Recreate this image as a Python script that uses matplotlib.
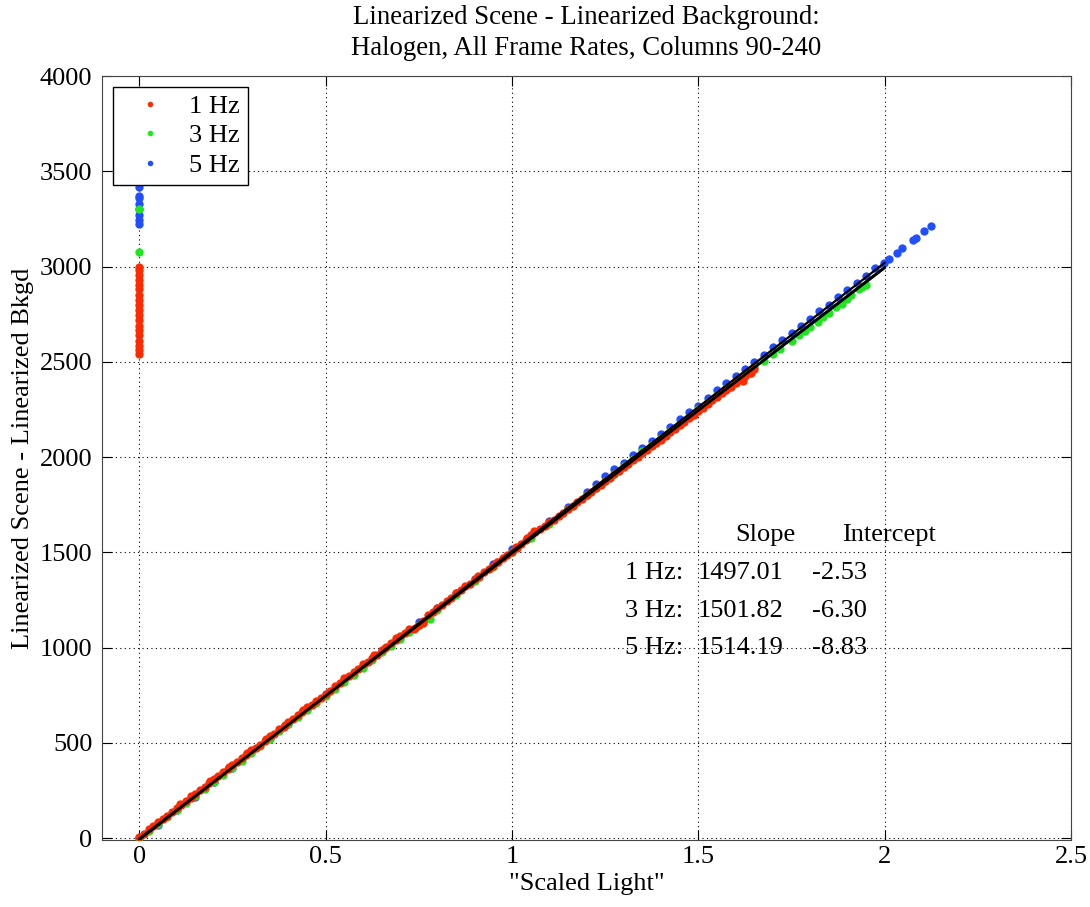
import numpy as np
import matplotlib
matplotlib.use('Agg')
import matplotlib.pyplot as plt

plt.rcParams['font.family'] = ['Liberation Serif', 'DejaVu Serif']
plt.rcParams['font.size'] = 19

# 1 Hz
x1 = [0.00, 0.025, 0.05, 0.075, 0.10, 0.125, 0.15, 0.175, 0.20, 0.225, 0.25, 0.275, 0.30, 0.325,
      0.35, 0.375, 0.40, 0.425, 0.45, 0.475, 0.50, 0.525, 0.55, 0.575, 0.60, 0.625, 0.65, 0.675,
      0.70, 0.725, 0.75, 0.775, 0.80, 0.825, 0.85, 0.875, 0.90, 0.925, 0.95, 0.975, 1.00, 1.025,
      1.05, 1.075, 1.10, 1.125, 1.15, 1.175, 1.20, 1.225, 1.25, 1.275, 1.30, 1.325, 1.35, 1.375,
      1.40, 1.425, 1.45, 1.475, 1.50, 1.525, 1.55, 1.575, 1.60, 1.625, 1.65,
      0.11, 0.14, 0.19, 0.24, 0.29, 0.34, 0.39, 0.44, 0.63, 0.66, 0.69, 0.74, 0.76, 0.91, 0.96,
      1.01, 1.04, 1.06, 1.62, 1.64,
      0.0125, 0.0375, 0.0625, 0.0875, 0.1125, 0.1375, 0.1625, 0.1875, 0.2125, 0.2375, 0.2625,
      0.2875, 0.3125, 0.3375, 0.3625, 0.3875, 0.4125, 0.4375, 0.4625, 0.4875, 0.5125, 0.5375,
      0.5625, 0.5875, 0.6125, 0.6375, 0.6625, 0.6875, 0.7125, 0.7375, 0.7625, 0.7875, 0.8125,
      0.8375, 0.8625, 0.8875, 0.9125, 0.9375, 0.9625, 0.9875, 1.0125, 1.0375, 1.0625, 1.0875,
      1.1125, 1.1375, 1.1625, 1.1875, 1.2125, 1.2375, 1.2625, 1.2875, 1.3125, 1.3375, 1.3625,
      1.3875, 1.4125, 1.4375, 1.4625, 1.4875, 1.5125, 1.5375, 1.5625, 1.5875, 1.6125, 1.6375]
y1 = [5, 45, 82, 118, 160, 195, 232, 270, 312, 345, 385, 420, 462, 490,
      535, 572, 610, 648, 690, 718, 758, 800, 838, 870, 915, 945, 985, 1025,
      1060, 1095, 1118, 1170, 1210, 1245, 1285, 1322, 1360, 1395, 1430, 1470, 1500, 1545,
      1590, 1620, 1660, 1690, 1728, 1765, 1800, 1838, 1875, 1910, 1948, 1985, 2020, 2058,
      2092, 2130, 2168, 2205, 2240, 2280, 2315, 2350, 2390, 2425, 2460,
      178, 222, 298, 372, 448, 522, 595, 672, 960, 1000, 1050, 1105, 1130, 1375, 1450,
      1528, 1575, 1610, 2400, 2440,
      22, 62, 100, 138, 176, 212, 250, 290, 328, 362, 400,
      438, 475, 510, 548, 585, 625, 662, 700, 735, 772, 812,
      850, 885, 925, 962, 1005, 1040, 1075, 1100, 1140, 1185, 1225,
      1262, 1300, 1335, 1372, 1410, 1450, 1485, 1525, 1565, 1605, 1640,
      1672, 1708, 1745, 1780, 1818, 1855, 1890, 1928, 1965, 2000, 2038,
      2075, 2110, 2148, 2185, 2222, 2260, 2298, 2335, 2370, 2408, 2442]
# 1 Hz, points at zero light
x1_zero = [0, 0, 0, 0, 0, 0, 0, 0, 0, 0, 0, 0, 0, 0, 0, 0, 0, 0, 0]
y1_zero = [2540, 2560, 2585, 2610, 2640, 2665, 2690, 2720, 2745, 2770, 2800, 2825, 2850, 2880,
           2905, 2930, 2955, 2980, 3000]

# 3 Hz
x3 = [0.00, 0.05, 0.10, 0.15, 0.20, 0.25, 0.30, 0.35, 0.40, 0.45, 0.50, 0.55, 0.60, 0.65, 0.70,
      0.75, 0.78, 0.80, 0.85, 0.90, 0.95, 1.00, 1.05, 1.10, 1.15, 1.20, 1.25, 1.30, 1.35, 1.40,
      1.45, 1.50, 1.55, 1.60, 1.65, 1.70, 1.75, 1.80, 1.85, 1.90, 1.93, 1.95,
      1.72, 1.77, 1.82, 1.87, 1.91,
      1.225, 1.275, 1.325, 1.375, 1.425, 1.475, 1.525, 1.575, 1.625, 1.675, 1.785, 1.835, 1.885,
      1.94, 0.025, 0.075, 0.125, 0.175, 0.225, 0.275, 0.325, 0.375, 0.425, 0.475, 0.525, 0.575,
      0.625, 0.675, 0.725, 0.76]
y3 = [0, 72, 145, 220, 295, 368, 445, 520, 600, 670, 745, 820, 895, 975, 1045,
      1120, 1150, 1195, 1275, 1350, 1425, 1500, 1575, 1650, 1725, 1800, 1875, 1955, 2030, 2100,
      2175, 2250, 2325, 2395, 2470, 2540, 2610, 2685, 2755, 2830, 2880, 2905,
      2565, 2640, 2710, 2785, 2850,
      1838, 1912, 1990, 2062, 2138, 2212, 2288, 2360, 2432, 2505, 2660, 2735, 2805,
      2890, 35, 108, 182, 258, 330, 405, 482, 560, 635, 708, 782, 858,
      935, 1010, 1082, 1130]
x3_zero = [0, 0]
y3_zero = [3078, 3300]

# 5 Hz
x5 = [0.00, 0.05, 0.10, 0.15, 0.20, 0.25, 0.30, 0.40, 0.50, 0.60, 0.70, 0.80, 0.90, 1.00, 1.10,
      1.20, 1.25, 1.30, 1.35, 1.40, 1.45, 1.50, 1.55, 1.60, 1.65, 1.70, 1.75, 1.80, 1.85, 1.90,
      1.95, 1.997, 2.011, 2.032, 2.046, 2.075, 2.085, 2.105, 2.124,
      1.225, 1.275, 1.325, 1.375, 1.425, 1.475, 1.525, 1.575, 1.625, 1.675, 1.725, 1.775, 1.825,
      1.875, 1.925, 1.975, 0.35, 0.45, 0.55, 0.65, 0.75, 0.85, 0.95, 1.05, 1.15]
y5 = [0, 70, 145, 218, 292, 370, 450, 600, 755, 905, 1055, 1210, 1360, 1515, 1665,
      1815, 1900, 1970, 2050, 2120, 2200, 2270, 2350, 2425, 2500, 2575, 2650, 2725, 2800, 2875,
      2950, 3020, 3041, 3072, 3099, 3141, 3150, 3188, 3215,
      1858, 1935, 2010, 2085, 2160, 2235, 2310, 2388, 2462, 2538, 2612, 2690, 2765,
      2840, 2915, 2990, 525, 678, 830, 980, 1132, 1285, 1438, 1590, 1740]
x5_zero = [0, 0, 0, 0, 0, 0, 0, 0]
y5_zero = [3225, 3245, 3270, 3300, 3330, 3362, 3370, 3415]

labels = ['1 Hz', '3 Hz', '5 Hz']
slopes = [1497.01, 1501.82, 1514.19]
intercepts = [-2.53, -6.30, -8.83]
fit_range = [0, 2]

c_red = '#ff2a00'
c_green = '#1ee61e'
c_blue = '#1f4fff'

fig = plt.figure(figsize=(10.9, 9.07), dpi=100)
ax = fig.add_axes([0.0936, 0.0739, 0.889, 0.8423])

ms = 6
ax.plot(x5 + x5_zero, y5 + y5_zero, 'o', ms=ms, color=c_blue, mec='none', zorder=2)
ax.plot(x3 + x3_zero, y3 + y3_zero, 'o', ms=ms, color=c_green, mec='none', zorder=3)
ax.plot(x1 + x1_zero, y1 + y1_zero, 'o', ms=ms, color=c_red, mec='none', zorder=4)

fx = np.array(fit_range)
for s, b in zip(slopes, intercepts):
    ax.plot(fx, s * fx + b, '-', color='black', lw=1.6, zorder=5)

# legend handles
h1, = ax.plot([], [], 'o', ms=4, color=c_red, mec='none')
h3, = ax.plot([], [], 'o', ms=4, color=c_green, mec='none')
h5, = ax.plot([], [], 'o', ms=4, color=c_blue, mec='none')
leg = ax.legend([h1, h3, h5], labels, loc='upper left', fancybox=False, framealpha=1,
                edgecolor='black', fontsize=19, handlelength=2.2, handletextpad=0.4,
                borderaxespad=0.4, labelspacing=0.23, borderpad=0.3)
leg.get_frame().set_linewidth(1.0)

# fit table
ax.text(1.68, 1592, 'Slope', ha='center', va='center')
ax.text(2.011, 1592, 'Intercept', ha='center', va='center')
row_y = [1391, 1191, 996]
for lab, s, b, yy in zip(labels, slopes, intercepts, row_y):
    ax.text(1.46, yy, lab + ':', ha='right', va='center')
    ax.text(1.497, yy, '%.2f' % s, ha='left', va='center')
    ax.text(1.806, yy, '%.2f' % b, ha='left', va='center')

ax.set_xlim(-0.1, 2.5)
ax.set_ylim(-10, 4000)
ax.set_xticks([0, 0.5, 1, 1.5, 2, 2.5])
ax.set_xticklabels(['0', '0.5', '1', '1.5', '2', '2.5'])
ax.set_yticks(np.arange(0, 4001, 500))
ax.tick_params(direction='in', top=True, right=True, length=7, labelsize=19)
ax.tick_params(axis='y', pad=7)
ax.tick_params(axis='x', pad=4)
ax.grid(True, linestyle=(0, (1, 3)), color='black', linewidth=0.8)
for sp in ax.spines.values():
    sp.set_color('#444444')

ax.set_title('Linearized Scene - Linearized Background:\nHalogen, All Frame Rates, Columns 90-240',
             fontsize=19.3, pad=15, linespacing=1.35)
ax.set_xlabel('"Scaled Light"', labelpad=4)
ax.set_ylabel('Linearized Scene - Linearized Bkgd', labelpad=4)

fig.savefig('out.png', dpi=100)
